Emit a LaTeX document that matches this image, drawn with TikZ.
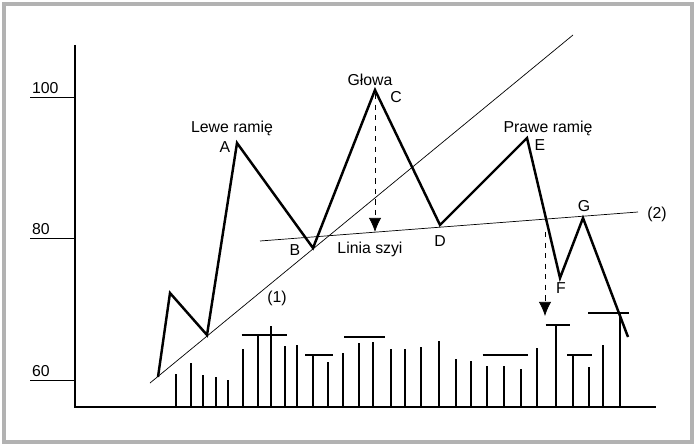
\documentclass[tikz,border=0pt]{standalone}
\usepackage{fontspec}
\setmainfont{Liberation Sans}
\usetikzlibrary{arrows.meta}
\begin{document}
\begin{tikzpicture}[x=0.02cm,y=-0.02cm,
  lbl/.style={font=\fontsize{9pt}{10pt}\selectfont,inner sep=1pt},
  bar/.style={line width=1.2pt},
  price/.style={line width=1.4pt,line join=miter}]
\useasboundingbox (0,0) rectangle (696,446);
\draw[gray!60,line width=2pt] (4,4) rectangle (692,442);
% axes
\draw[line width=1pt] (75,45) -- (75,407) -- (656,407);
\draw (30,97) -- (75,97); \node[lbl,anchor=south west] (t100) at (30,96) {100};
\draw (30,238) -- (75,238); \node[lbl,anchor=south west] (t80) at (30,237) {80};
\draw (30,380) -- (75,380); \node[lbl,anchor=south west] (t60) at (30,379) {60};
% trend and neck lines
\coordinate (l1a) at (150,383); \coordinate (l1b) at (573,35);
\draw (l1a) -- (l1b);
\coordinate (n1) at (260,241); \coordinate (n2) at (638,212);
\draw (n1) -- (n2);
% price path
\coordinate (p0) at (158,377); \coordinate (p1) at (170,293); \coordinate (p2) at (207,335);
\coordinate (A) at (237,143); \coordinate (B) at (313,248); \coordinate (C) at (375,90);
\coordinate (D) at (440,225); \coordinate (E) at (527,138); \coordinate (F) at (560,278);
\coordinate (G) at (583,218); \coordinate (p9) at (628,337);
\draw[price] (p0)--(p1)--(p2)--(A)--(B)--(C)--(D)--(E)--(F)--(G)--(p9);
% dashed arrows
\coordinate (d1a) at (375,94); \coordinate (d1b) at (375,232);
\coordinate (d2a) at (545,232); \coordinate (d2b) at (545,316);
\draw[dashed,-{Latex[length=8pt,width=7pt]}] (d1a) -- (d1b);
\draw[dashed,-{Latex[length=8pt,width=7pt]}] (d2a) -- (d2b);
% labels
\node[lbl] (lr) at (232,128) {Lewe ramię};
\node[lbl] (la) at (225,147) {A};
\node[lbl] (gl) at (370,80) {Głowa};
\node[lbl] (lc) at (396,97) {C};
\node[lbl] (lb) at (295,250) {B};
\node[lbl] (ls) at (370,249) {Linia szyi};
\node[lbl] (ld) at (440,241) {D};
\node[lbl] (pr) at (548,128) {Prawe ramię};
\node[lbl] (le) at (540,145) {E};
\node[lbl] (lf) at (561,288) {F};
\node[lbl] (lg) at (584,206) {G};
\node[lbl] (l2) at (657,214) {(2)};
\node[lbl] (l1) at (277,298) {(1)};
% volume bars
\foreach \x/\t in {176/374,190.7/362.7,203.3/374.7,215.7/377.3,228/380,242.7/348.7,258.3/335,271.3/326,284.7/345.7,296.7/345,312.7/355,328/362,343.3/353.3,359.3/343.3,373.3/342,390.7/348.7,404.7/349.3,420.7/347.3,439.3/340.7,455.7/358.7,470.7/360.7,487.3/366,504/366,520.7/368.7,536.7/348.3,555.7/325.3,572.7/355.3,588.7/366.7,603.3/345,620/313.3}
  \draw[bar] (\x,407) -- (\x,\t);
\foreach \a/\b/\y in {241.7/287.3/335,305/332.7/355,344.3/385.3/337.3,482.7/527.7/355,545.7/570/325.3,567.3/592/355.3,588.3/629/313.3}
  \draw[bar] (\a,\y) -- (\b,\y);
\end{tikzpicture}
\end{document}
